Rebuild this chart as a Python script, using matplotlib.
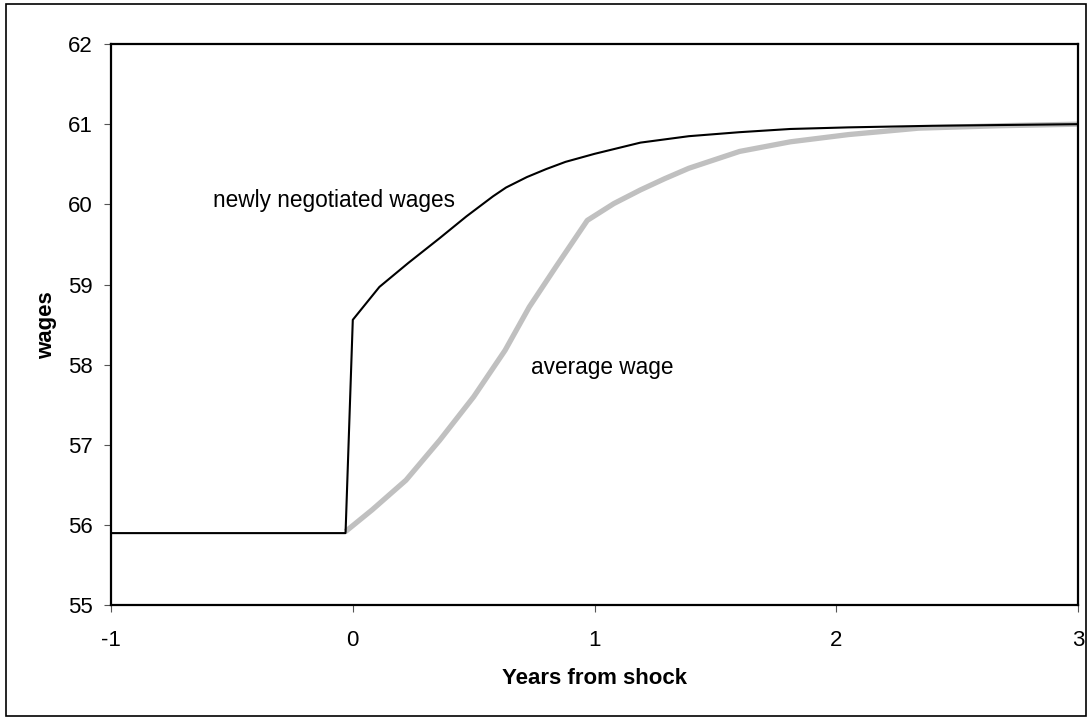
import matplotlib.pyplot as plt
from matplotlib.patches import Rectangle

plt.rcParams['font.family'] = ['Liberation Sans', 'DejaVu Sans']

# newly negotiated wages (black)
new_x = [-1, -0.03, 0, 0.11, 0.23, 0.36, 0.47, 0.58, 0.634, 0.72, 0.8, 0.88, 1.0,
         1.19, 1.39, 1.6, 1.81, 2.05, 2.4, 2.7, 3.0]
new_y = [55.9, 55.9, 58.56, 58.97, 59.27, 59.58, 59.85, 60.1, 60.21, 60.34, 60.44,
         60.53, 60.63, 60.77, 60.85, 60.9, 60.94, 60.96, 60.98, 60.99, 61.0]

# average wage (grey)
avg_x = [-0.03, 0.08, 0.22, 0.36, 0.5, 0.63, 0.73, 0.84, 0.97, 1.08, 1.19, 1.29,
         1.39, 1.6, 1.81, 2.05, 2.34, 2.67, 3.0]
avg_y = [55.92, 56.19, 56.56, 57.06, 57.6, 58.18, 58.72, 59.22, 59.8, 60.01, 60.18,
         60.32, 60.45, 60.66, 60.78, 60.87, 60.95, 60.98, 61.0]

x_ticks = [-1, 0, 1, 2, 3]
y_ticks = [55, 56, 57, 58, 59, 60, 61, 62]

fig = plt.figure(figsize=(10.92, 7.21), dpi=100)
ax = fig.add_axes([0.1017, 0.1605, 0.8855, 0.7785])

ax.plot(avg_x, avg_y, color='#c0c0c0', lw=3.8, solid_capstyle='butt', zorder=2)
ax.plot(new_x, new_y, color='black', lw=1.5, zorder=3)

ax.set_xlim(-1, 3)
ax.set_ylim(55, 62)
ax.set_xticks(x_ticks)
ax.set_yticks(y_ticks)
ax.set_xticklabels([str(t) for t in x_ticks])
ax.tick_params(axis='both', direction='out', length=5, width=0.8, color='#555555',
               labelsize=16)
ax.tick_params(axis='y', pad=8)
ax.tick_params(axis='x', pad=13)
for s in ax.spines.values():
    s.set_linewidth(1.6)

ax.set_xlabel('Years from shock', fontsize=16, fontweight='bold', labelpad=12)
ax.set_ylabel('wages', fontsize=16, fontweight='bold', labelpad=8)

ax.text(-0.58, 60.05, 'newly negotiated wages', fontsize=16.3, va='center', ha='left')
ax.text(0.738, 57.97, 'average wage', fontsize=16.3, va='center', ha='left')

# outer frame around the whole chart
fig.patches.append(Rectangle((6 / 1092, 5 / 721), 1080 / 1092, 712 / 721,
                             transform=fig.transFigure, fill=False,
                             edgecolor='black', lw=1.2))

fig.savefig('out.png', dpi=100)
